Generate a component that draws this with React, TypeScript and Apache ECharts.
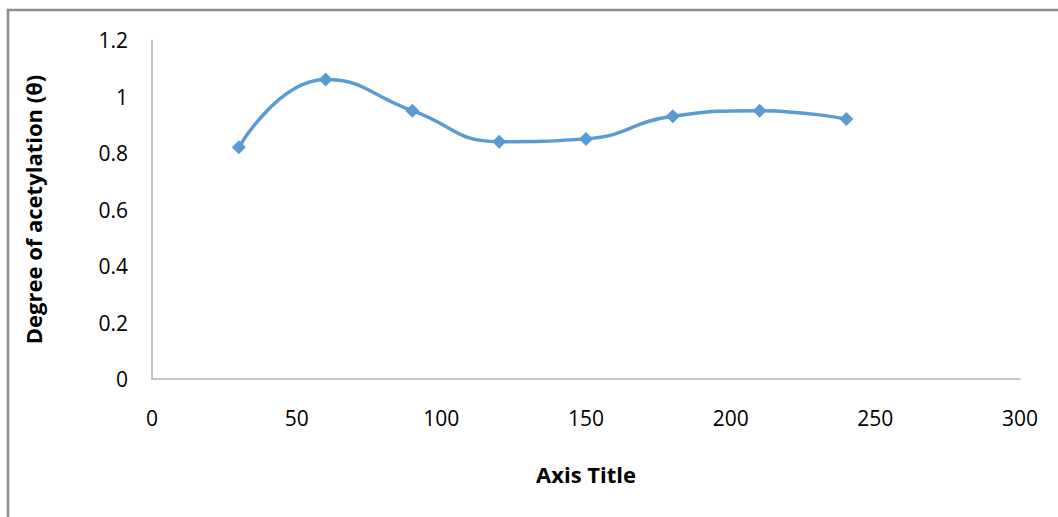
import React, { useEffect, useRef } from "react";
import * as echarts from "echarts";

const xValues = [30, 60, 90, 120, 150, 180, 210, 240];
const yValues = [0.82, 1.06, 0.95, 0.84, 0.85, 0.93, 0.95, 0.92];
const yAxisTitle = "Degree of acetylation (θ)";
const xAxisTitle = "Axis Title";

export default function App() {
  const ref = useRef<HTMLDivElement>(null);
  useEffect(() => {
    if (!ref.current) return;
    const chart = echarts.init(ref.current, null, { renderer: "svg" });
    const font = "'Open Sans', sans-serif";
    chart.setOption({
      animation: false,
      backgroundColor: "#ffffff",
      grid: { left: 152, right: 38, top: 40, bottom: 138 },
      graphic: [
        {
          type: "rect",
          shape: { x: 8, y: 10, width: 1070, height: 530 },
          style: { fill: "none", stroke: "#8c8c8c", lineWidth: 2.5 },
          silent: true,
        },
      ],
      xAxis: {
        type: "value",
        min: 0,
        max: 300,
        interval: 50,
        name: xAxisTitle,
        nameLocation: "middle",
        nameGap: 84,
        nameTextStyle: { fontFamily: font, fontSize: 22, fontWeight: "bold", color: "#000" },
        axisLine: { show: true, lineStyle: { color: "#b3b3b3", width: 1.5 } },
        axisTick: { show: false },
        splitLine: { show: false },
        axisLabel: { fontFamily: font, fontSize: 21, color: "#000", margin: 28 },
      },
      yAxis: {
        type: "value",
        min: 0,
        max: 1.2,
        interval: 0.2,
        name: yAxisTitle,
        nameLocation: "middle",
        nameGap: 108,
        nameRotate: 90,
        nameTextStyle: { fontFamily: font, fontSize: 22, fontWeight: "bold", color: "#000" },
        axisLine: { show: true, lineStyle: { color: "#b3b3b3", width: 1.5 } },
        axisTick: { show: false },
        splitLine: { show: false },
        axisLabel: {
          fontFamily: font,
          fontSize: 21,
          color: "#000",
          margin: 24,
          formatter: (v: number) => String(Math.round(v * 10) / 10),
        },
      },
      series: [
        {
          type: "line",
          data: xValues.map((x, i) => [x, yValues[i]]),
          smooth: 0.5,
          symbol: "diamond",
          symbolSize: 14,
          lineStyle: { color: "#5B9BD5", width: 3.5 },
          itemStyle: { color: "#5B9BD5" },
        },
      ],
    });
    return () => chart.dispose();
  }, []);
  return (
    <div
      ref={ref}
      style={{ position: "absolute", left: 0, top: 0, width: 1058, height: 517 }}
    />
  );
}
